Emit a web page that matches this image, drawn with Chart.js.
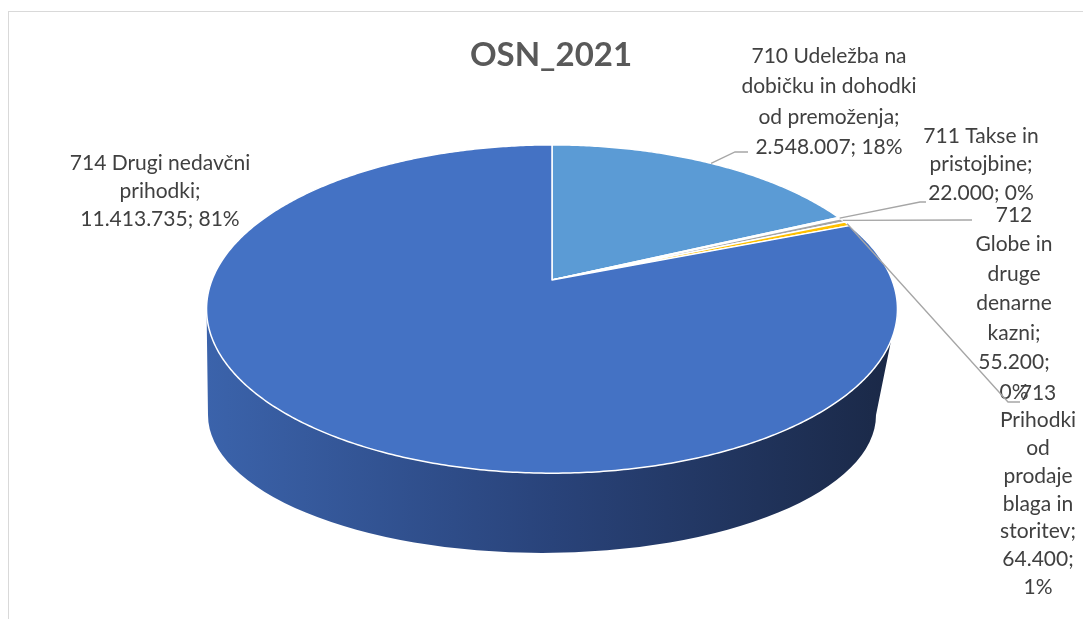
<!DOCTYPE html>
<html><head><meta charset="utf-8">
<script src="https://cdn.jsdelivr.net/npm/chart.js@4.4.1/dist/chart.umd.min.js"></script>
<style>html,body{margin:0;padding:0;background:#fff;}canvas{display:block;}</style>
</head><body>
<canvas id="c" width="1083" height="619"></canvas>
<script>
// ---- data ----
const categories = [
  '710 Udeležba na dobičku in dohodki od premoženja',
  '711 Takse in pristojbine',
  '712 Globe in druge denarne kazni',
  '713 Prihodki od prodaje blaga in storitev',
  '714 Drugi nedavčni prihodki'
];
const values = [2548007, 22000, 55200, 64400, 11413735];
const percentLabels = ['18%', '0%', '0%', '1%', '81%'];
const chartTitle = 'OSN_2021';

// ---- styles ----
const colors = ['#5B9BD5', '#D9D9D9', '#A5A5A5', '#FFC000', '#4472C4'];
const FONT = 'Lato, "Open Sans", sans-serif';
const P = {cx: 552, cy: 280, A: 159, B: 340, k: 0.177};      // top-face perspective
const SB = {cx: 542, cy: 415, rx: 334, ry: 138};               // bottom outline of the side
const labelLayout = [
  {cx: 829,  y0: 56,  lh: 30.5, maxW: 190, leader: [[735,152],[748,152]]},
  {cx: 981,  y0: 136, lh: 28.5, maxW: 120, leader: [[920,202],[926,202]]},
  {cx: 1014, y0: 215, lh: 29.5, maxW: 88,  leader: [[966,220],[972,220]]},
  {cx: 1038, y0: 393, lh: 27.7, maxW: 88,  leader: [[1008,402],[1020,402]]},
  {cx: 160,  y0: 163, lh: 28,   maxW: 183, leader: null}
];

function fmt(v){ return String(v).replace(/\B(?=(\d{3})+(?!\d))/g, '.'); }
function proj(th){
  const X = Math.sin(th), Z = Math.cos(th), d = 1 + P.k * Z;
  return [P.cx + P.B * X / d, P.cy - P.A * Z / d];
}
function wrap(ctx, text, maxW){
  const words = text.split(' ');
  const lines = [];
  let cur = '';
  for (const w of words){
    const t = cur ? cur + ' ' + w : w;
    if (cur && ctx.measureText(t).width > maxW){ lines.push(cur); cur = w; }
    else cur = t;
  }
  if (cur) lines.push(cur);
  return lines;
}

const pie3d = {
  id: 'pie3d',
  beforeDraw(chart){
    const ctx = chart.ctx;
    ctx.save();
    ctx.fillStyle = '#ffffff';
    ctx.fillRect(0, 0, chart.width, chart.height);
    ctx.strokeStyle = '#D9D9D9';
    ctx.lineWidth = 1;
    ctx.strokeRect(8.5, 11.5, 1200, 800);
    ctx.restore();
  },
  beforeDatasetsDraw(chart){
    const ctx = chart.ctx;
    const meta = chart.getDatasetMeta(0);
    ctx.save();
    // side wall
    const thR = Math.acos(-P.k), thL = 2 * Math.PI - thR, N = 120;
    ctx.beginPath();
    for (let i = 0; i <= N; i++){
      const [x, y] = proj(thR + (thL - thR) * i / N);
      i ? ctx.lineTo(x, y) : ctx.moveTo(x, y);
    }
    ctx.ellipse(SB.cx, SB.cy, SB.rx, SB.ry, 0, Math.PI, 0, true);
    ctx.closePath();
    const g = ctx.createLinearGradient(P.cx - 346, 0, P.cx + 346, 0);
    g.addColorStop(0, '#3B63AB');
    g.addColorStop(0.5, '#29437A');
    g.addColorStop(1, '#1A2846');
    ctx.fillStyle = g;
    ctx.fill();
    // top face slices
    meta.data.forEach((el, i) => {
      const th0 = el.startAngle + Math.PI / 2, th1 = el.endAngle + Math.PI / 2;
      const n = Math.max(2, Math.ceil((th1 - th0) / 0.01));
      ctx.beginPath();
      ctx.moveTo(P.cx, P.cy);
      for (let j = 0; j <= n; j++){
        const [x, y] = proj(th0 + (th1 - th0) * j / n);
        ctx.lineTo(x, y);
      }
      ctx.closePath();
      ctx.fillStyle = chart.data.datasets[0].backgroundColor[i];
      ctx.fill();
      ctx.strokeStyle = '#ffffff';
      ctx.lineWidth = 1.5;
      ctx.lineJoin = 'round';
      ctx.stroke();
    });
    ctx.restore();
    return false;
  },
  afterDraw(chart){
    const ctx = chart.ctx;
    const meta = chart.getDatasetMeta(0);
    ctx.save();
    ctx.font = '21px ' + FONT;
    ctx.fillStyle = '#404040';
    ctx.textAlign = 'center';
    ctx.textBaseline = 'middle';
    meta.data.forEach((el, i) => {
      const L = labelLayout[i];
      if (L.leader){
        const mid = (el.startAngle + el.endAngle) / 2 + Math.PI / 2;
        const [sx, sy] = proj(mid);
        ctx.beginPath();
        ctx.moveTo(sx, sy);
        L.leader.forEach(p => ctx.lineTo(p[0], p[1]));
        ctx.strokeStyle = '#A6A6A6';
        ctx.lineWidth = 1.3;
        ctx.stroke();
      }
      const text = categories[i] + '; ' + fmt(values[i]) + '; ' + percentLabels[i];
      const lines = wrap(ctx, text, L.maxW);
      lines.forEach((ln, j) => ctx.fillText(ln, L.cx, L.y0 + j * L.lh));
    });
    ctx.restore();
  }
};

new Chart(document.getElementById('c'), {
  type: 'pie',
  data: {
    labels: categories,
    datasets: [{data: values, backgroundColor: colors, borderColor: '#ffffff', borderWidth: 1.5}]
  },
  options: {
    responsive: false,
    devicePixelRatio: 1,
    animation: false,
    layout: {padding: {left: 19, right: 0, top: 0, bottom: 0}},
    plugins: {
      legend: {display: false},
      tooltip: {enabled: false},
      title: {
        display: true, text: chartTitle, color: '#595959',
        font: {family: FONT, size: 33, weight: 'bold'},
        padding: {top: 36, bottom: 0}
      }
    }
  },
  plugins: [pie3d]
});
</script>
</body></html>
